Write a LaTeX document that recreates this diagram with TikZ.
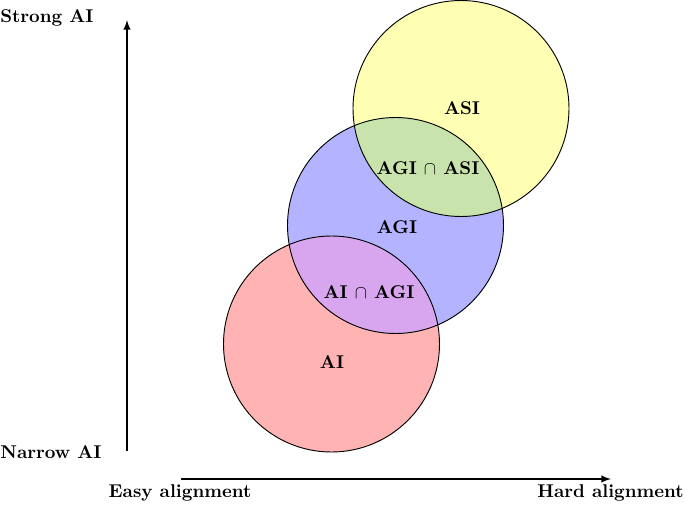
\documentclass[tikz,border=0pt]{standalone}
\usepackage{tikz}
\definecolor{aired}{RGB}{255,179,179}
\definecolor{agiblue}{RGB}{179,179,255}
\definecolor{asiyellow}{RGB}{255,255,179}
\definecolor{lenspurple}{RGB}{216,166,238}
\definecolor{lensgreen}{RGB}{200,228,172}
\usetikzlibrary{arrows}

\begin{document}
\begin{tikzpicture}[rand/.style={draw=black, line width=0.5pt}, x=0.19mm, y=0.19mm,
				>=latex,   %Pfeilspitzen
				font=\bfseries, scale=1]
				\useasboundingbox (0,0) rectangle (685,504);
				%Mittelpunkte
				\coordinate (ai) at (331.5,160);
				\coordinate (agi) at (395.5,278.5);
				\coordinate (asi) at (461,395.5);
				%Kreise fuellen
				\fill[aired] (ai) circle (108);
				\fill[agiblue] (agi) circle (108);
				\fill[asiyellow] (asi) circle (108);
				%Schnittmengen
				\begin{scope}
					\clip (ai) circle (108);
					\fill[lenspurple] (agi) circle (108);
				\end{scope}
				\begin{scope}
					\clip (agi) circle (108);
					\fill[lensgreen] (asi) circle (108);
				\end{scope}
				%Raender
				\foreach \c in {ai,agi,asi} \draw[rand] (\c) circle (108);
				%Beschriftung
				\node (asilabel) at (462,396) {ASI};
				\node (agilabel) at (397,277) {AGI};
				\node (ailabel) at (332,142) {AI};
				\node (aiagi) at (369,212) {AI $\cap$ AGI};
				\node (agiasi) at (428,336) {AGI $\cap$ ASI};
				% Achsen zeichnen
				\coordinate (ybot) at (127,53);
				\coordinate (ytop) at (127,484);
				\coordinate (xleft) at (181,25);
				\coordinate (xright) at (611,25);
				\draw[->,thick] (ybot) -- (ytop);
				\draw[->,thick] (xleft) -- (xright);
				% Achsen beschriften
				\node[anchor=west, inner sep=0pt] (strong) at (0,486) {Strong AI};
				\node[anchor=west, inner sep=0pt] (narrow) at (0,52) {Narrow AI};
				\node (easy) at (180,11) {Easy alignment};
				\node[anchor=east, inner sep=0pt] (hard) at (684,11) {Hard alignment};
			\end{tikzpicture}
\end{document}
